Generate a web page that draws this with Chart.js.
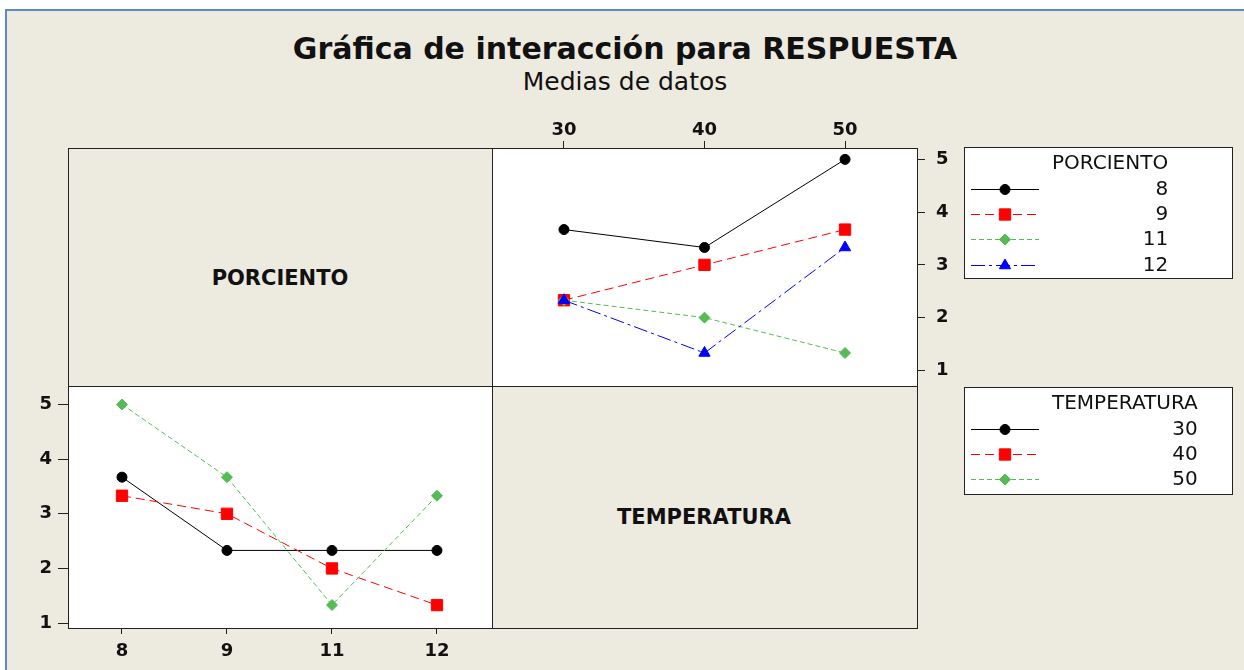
<!DOCTYPE html>
<html>
<head>
<meta charset="utf-8">
<script src="https://cdn.jsdelivr.net/npm/chart.js@4.4.0/dist/chart.umd.min.js"></script>
<style>
  body { margin: 0; width: 1244px; height: 670px; background: #fff; overflow: hidden; position: relative; font-family: "DejaVu Sans", sans-serif; }
  #marco { position: absolute; left: 5px; top: 9px; width: 1260px; height: 680px; border-left: 2px solid #5b8ac7; border-top: 2px solid #5b8ac7; background: #edeae0; }
  .txt { position: absolute; white-space: nowrap; color: #111; text-align: center; }
  .panel { position: absolute; box-sizing: border-box; border: 1px solid #222; }
  canvas { position: absolute; }
</style>
</head>
<body>
<div id="marco"></div>

<div class="txt" style="left:0; width:1250px; top:34px; font-size:30px; line-height:30px; font-weight:bold;">Gráfica de interacción para RESPUESTA</div>
<div class="txt" style="left:0; width:1250px; top:69px; font-size:25px; line-height:25px;">Medias de datos</div>

<!-- matriz de paneles -->
<div class="panel" style="left:68px; top:148px; width:425px; height:239px; background:#edeae0;"></div>
<div class="panel" style="left:492px; top:148px; width:426px; height:239px; background:#fff;"></div>
<div class="panel" style="left:68px; top:386px; width:425px; height:243px; background:#fff;"></div>
<div class="panel" style="left:492px; top:386px; width:426px; height:243px; background:#edeae0;"></div>

<div class="txt" style="left:68px; width:424px; top:268px; font-size:21px; line-height:21px; font-weight:bold;">PORCIENTO</div>
<div class="txt" style="left:492px; width:424px; top:507px; font-size:21px; line-height:21px; font-weight:bold;">TEMPERATURA</div>

<canvas id="graficoTemp" width="520" height="296" style="left:480px; top:100px;"></canvas>
<canvas id="graficoPorc" width="500" height="294" style="left:0px; top:376px;"></canvas>
<canvas id="leyendas" width="284" height="360" style="left:960px; top:140px;"></canvas>

<script>
// niveles de los factores
var temperaturas = [30, 40, 50];
var porcientos = [8, 9, 11, 12];
var ticksRespuesta = [1, 2, 3, 4, 5];

// medias de RESPUESTA para cada PORCIENTO, a lo largo de TEMPERATURA (30, 40, 50)
var media8 = [3.67, 3.33, 5.00];
var media9 = [2.33, 3.00, 3.67];
var media11 = [2.33, 2.00, 1.33];
var media12 = [2.33, 1.33, 3.33];

// medias de RESPUESTA para cada TEMPERATURA, a lo largo de PORCIENTO (8, 9, 11, 12)
var media30 = [3.67, 2.33, 2.33, 2.33];
var media40 = [3.33, 3.00, 2.00, 1.33];
var media50 = [5.00, 3.67, 1.33, 3.33];

// estilo de cada serie (negro, rojo, verde, azul)
var estilos = [
  { color: '#000000', dash: [], punto: 'circle', radio: 5 },
  { color: '#ff0000', dash: [9, 5], punto: 'rect', radio: 8 },
  { color: '#55bb55', dash: [5, 3], punto: 'rectRot', radio: 5.5 },
  { color: '#0000ff', dash: [14, 4, 3, 4], punto: 'triangle', radio: 6.5 }
];

var fuenteTicks = { family: 'DejaVu Sans', size: 18, weight: 'bold' };
var colorTexto = '#111';

function serie(etiqueta, valores, i) {
  var e = estilos[i];
  return {
    label: etiqueta,
    data: valores.map(function (v, k) { return { x: k, y: v }; }),
    borderColor: e.color,
    borderWidth: 1,
    borderDash: e.dash,
    pointStyle: e.punto,
    pointRadius: e.radio,
    pointBackgroundColor: e.color,
    pointBorderColor: e.color,
    pointBorderWidth: 1,
    order: -i,
    tension: 0
  };
}

function ejeX(niveles, pos, min, max, alto, largo, relleno) {
  return {
    type: 'linear', position: pos, min: min, max: max,
    afterBuildTicks: function (s) { s.ticks = niveles.map(function (n, k) { return { value: k }; }); },
    afterFit: function (s) { s.height = alto; },
    ticks: { callback: function (v, k) { return niveles[k]; }, font: fuenteTicks, color: colorTexto, padding: relleno, autoSkip: false, maxRotation: 0 },
    grid: { drawOnChartArea: false, tickLength: largo, color: '#222' },
    border: { display: false }
  };
}

function ejeY(pos, min, max, ancho, largo, relleno) {
  return {
    type: 'linear', position: pos, min: min, max: max,
    afterBuildTicks: function (s) { s.ticks = ticksRespuesta.map(function (v) { return { value: v }; }); },
    afterFit: function (s) { s.width = ancho; },
    ticks: { font: fuenteTicks, color: colorTexto, padding: relleno },
    grid: { drawOnChartArea: false, tickLength: largo, color: '#222' },
    border: { display: false }
  };
}

var opcionesBase = {
  responsive: false,
  animation: false,
  plugins: { legend: { display: false }, tooltip: { enabled: false } }
};

// panel superior derecho: PORCIENTO vs TEMPERATURA
new Chart(document.getElementById('graficoTemp'), {
  type: 'line',
  data: {
    datasets: [
      serie('8', media8, 0),
      serie('9', media9, 1),
      serie('11', media11, 2),
      serie('12', media12, 3)
    ]
  },
  options: Object.assign({}, opcionesBase, {
    layout: { padding: { left: 12, top: 0, right: 0, bottom: 10 }, autoPadding: false },
    scales: {
      x: ejeX(temperaturas, 'top', -0.512, 2.512, 48, 7, 0),
      y: ejeY('right', 0.928, 5.216, 83, 8, 11)
    }
  })
});

// panel inferior izquierdo: TEMPERATURA vs PORCIENTO
new Chart(document.getElementById('graficoPorc'), {
  type: 'line',
  data: {
    datasets: [
      serie('30', media30, 0),
      serie('40', media40, 1),
      serie('50', media50, 2)
    ]
  },
  options: Object.assign({}, opcionesBase, {
    layout: { padding: { left: 0, top: 10, right: 8, bottom: 0 }, autoPadding: false },
    scales: {
      x: ejeX(porcientos, 'bottom', -0.514, 3.524, 42, 6, 7),
      y: ejeY('left', 0.911, 5.213, 68, 10, 6)
    }
  })
});

// leyendas
var ctx = document.getElementById('leyendas').getContext('2d');

function leyenda(titulo, etiquetas, cajaY, cajaAlto, tituloY, filas) {
  ctx.setLineDash([]);
  ctx.fillStyle = '#fff';
  ctx.fillRect(4.5, cajaY + 0.5, 268, cajaAlto);
  ctx.strokeStyle = '#222';
  ctx.lineWidth = 1;
  ctx.strokeRect(4.5, cajaY + 0.5, 268, cajaAlto);

  ctx.font = '20px "DejaVu Sans"';
  ctx.fillStyle = colorTexto;
  ctx.textBaseline = 'middle';
  ctx.textAlign = 'left';
  ctx.fillText(titulo, 92, tituloY);
  var derecha = 92 + ctx.measureText(titulo).width;

  etiquetas.forEach(function (et, i) {
    var e = estilos[i];
    var y = filas[i] + 0.5;
    ctx.strokeStyle = e.color;
    ctx.fillStyle = e.color;
    ctx.lineWidth = 1;
    ctx.setLineDash(e.dash);
    ctx.beginPath();
    ctx.moveTo(11, y);
    ctx.lineTo(79, y);
    ctx.stroke();
    ctx.setLineDash([]);
    Chart.helpers.drawPoint(ctx, { pointStyle: e.punto, radius: e.radio, rotation: 0, borderWidth: 1 }, 45, y);
    ctx.fillStyle = colorTexto;
    ctx.textAlign = 'right';
    ctx.fillText(String(et), derecha, filas[i] + 1);
    ctx.textAlign = 'left';
  });
}

leyenda('PORCIENTO', porcientos, 7, 131, 24, [49, 74, 99, 125]);
leyenda('TEMPERATURA', temperaturas, 247, 107, 264, [289, 314, 339]);
</script>
</body>
</html>
